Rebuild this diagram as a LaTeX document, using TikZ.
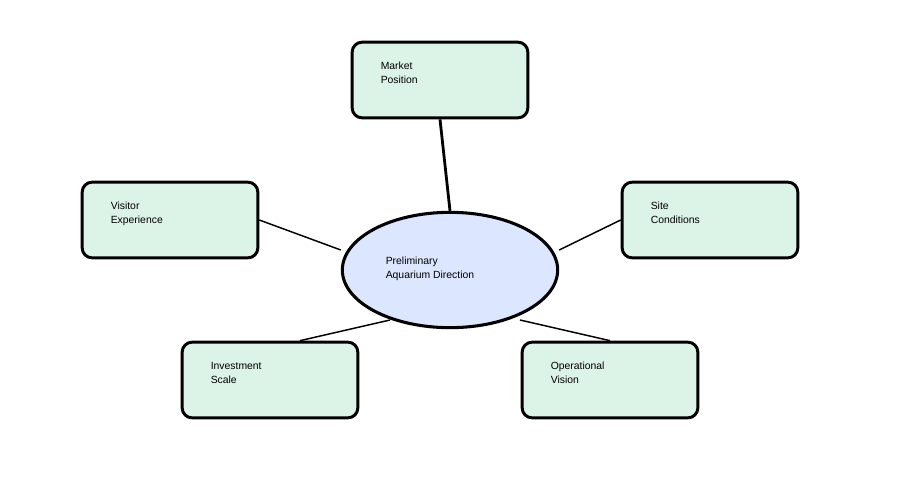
\documentclass[tikz,border=0pt]{standalone}
\usepackage{fontspec}
\setmainfont{Liberation Sans}
\usepackage{xcolor}
\usepackage{tikz}
\usetikzlibrary{shapes,positioning}
\definecolor{topicfill}{RGB}{220,243,232}
\definecolor{hubfill}{RGB}{220,230,255}

\begin{document}
\begin{tikzpicture}[x=0.75pt,y=-0.75pt,
                          topic/.style={draw=black, line width=2.2pt, rounded corners=7.5pt, fill=topicfill,
                                        minimum width=131.8pt, minimum height=56.8pt, inner sep=0pt},
                          hub/.style={ellipse, draw=black, line width=2.3pt, fill=hubfill,
                                      minimum width=161.5pt, minimum height=86.5pt, inner sep=0pt},
                          txt/.style={anchor=north west, inner sep=0pt, align=left,
                                      font=\fontsize{7.8}{10.5}\selectfont},
                          link/.style={line width=1.1pt, black},
                          mainlink/.style={line width=2.1pt, black},
                         ]

\useasboundingbox (0,0) rectangle (900,500);

\node[topic] (market) at (440,80) {};
\node[topic] (visitor) at (170,220) {};
\node[topic] (site) at (710,220) {};
\node[topic] (invest) at (270,380) {};
\node[topic] (oper) at (610,380) {};
\node[hub] (hub) at (450,270) {};

\node[txt] (market-t) at (380.5,61.8) {Market\\Position};
\node[txt] (visitor-t) at (110.5,201.8) {Visitor\\Experience};
\node[txt] (site-t) at (650.5,201.8) {Site\\Conditions};
\node[txt] (invest-t) at (210.5,361.8) {Investment\\Scale};
\node[txt] (oper-t) at (550.5,361.8) {Operational\\Vision};
\node[txt] (hub-t) at (385.5,257) {Preliminary\\Aquarium Direction};

\draw[mainlink] (market.south) -- (hub.north);
\draw[link] (visitor.east) -- ([yshift=15pt]hub.west);
\draw[link] (site.west) -- ([yshift=15pt]hub.east);
\draw[link] ([xshift=22.5pt]invest.north) -- ([shift={(-45pt,-37.5pt)}]hub.center);
\draw[link] (oper.north) -- ([shift={(52.5pt,-37.5pt)}]hub.center);

\end{tikzpicture}
\end{document}
